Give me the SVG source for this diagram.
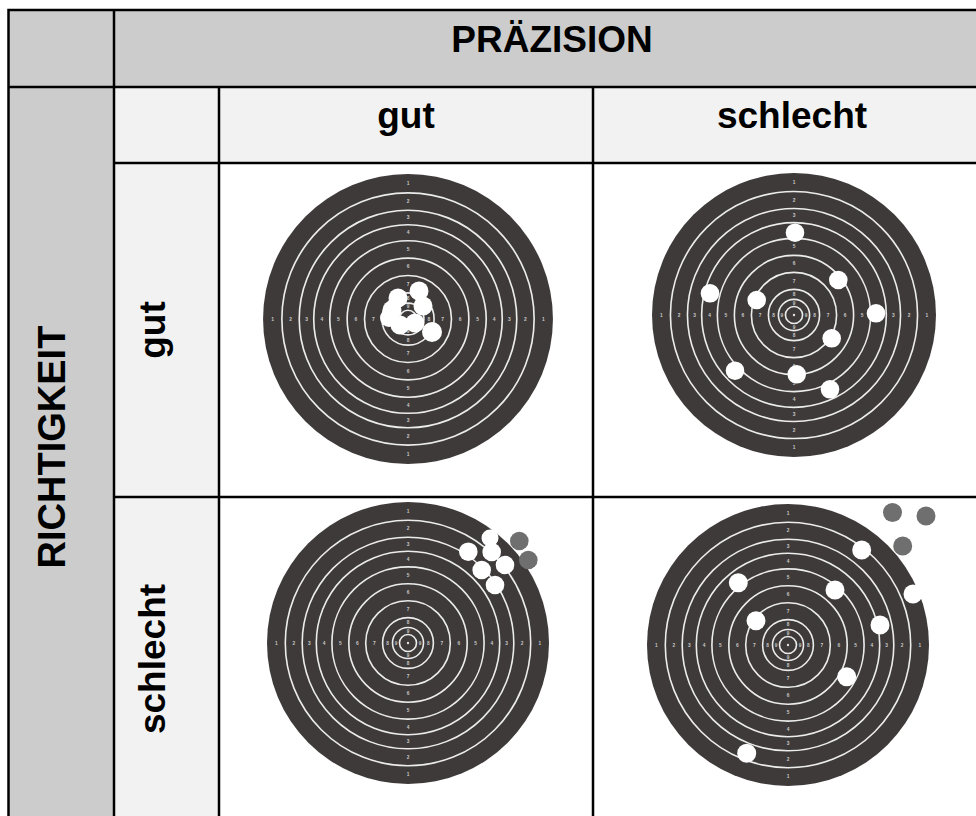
<svg xmlns="http://www.w3.org/2000/svg" xmlns:xlink="http://www.w3.org/1999/xlink" width="976" height="816" viewBox="0 0 976 816">
<style>
.hdr{fill:#cccccc}
.sub{fill:#f2f2f2}
.grid line,.grid rect{stroke:#000;stroke-width:2.5;fill:none}
.lbl{font-family:"Liberation Sans",Arial,sans-serif;font-weight:bold;font-size:37px;fill:#000;text-anchor:middle}
.tn{font-family:"Liberation Sans",Arial,sans-serif;font-size:4.8px;font-weight:bold;fill:#c8c8c8;text-anchor:middle}
.ring{fill:none;stroke:#ececec;stroke-width:1.6}
.hole{fill:#ffffff}
.ghole{fill:#6f6f6f}
</style>
<defs>
<g id="target">
<circle r="141" fill="#3e3a39"/>
<circle class="ring" r="122.7"/>
<circle class="ring" r="105.8"/>
<circle class="ring" r="91.7"/>
<circle class="ring" r="76.1"/>
<circle class="ring" r="59.2"/>
<circle class="ring" r="42.3"/>
<circle class="ring" r="25.4"/>
<circle class="ring" r="15.5"/>
<circle class="ring" r="8.5"/>
<circle r="1.2" fill="#e0e0e0"/>
<g class="tn">
<text x="0" y="-130.2">1</text><text x="0" y="133.4">1</text><text x="-131.8" y="1.6">1</text><text x="131.8" y="1.6">1</text>
<text x="0" y="-112.6">2</text><text x="0" y="115.8">2</text><text x="-114.2" y="1.6">2</text><text x="114.2" y="1.6">2</text>
<text x="0" y="-97.1">3</text><text x="0" y="100.3">3</text><text x="-98.7" y="1.6">3</text><text x="98.7" y="1.6">3</text>
<text x="0" y="-82.3">4</text><text x="0" y="85.5">4</text><text x="-83.9" y="1.6">4</text><text x="83.9" y="1.6">4</text>
<text x="0" y="-66.1">5</text><text x="0" y="69.3">5</text><text x="-67.7" y="1.6">5</text><text x="67.7" y="1.6">5</text>
<text x="0" y="-49.2">6</text><text x="0" y="52.4">6</text><text x="-50.8" y="1.6">6</text><text x="50.8" y="1.6">6</text>
<text x="0" y="-32.2">7</text><text x="0" y="35.4">7</text><text x="-33.8" y="1.6">7</text><text x="33.8" y="1.6">7</text>
<text x="0" y="-18.8">8</text><text x="0" y="22">8</text><text x="-20.4" y="1.6">8</text><text x="20.4" y="1.6">8</text>
<text x="0" y="-10.4">9</text><text x="0" y="13.6">9</text><text x="-12" y="1.6">9</text><text x="12" y="1.6">9</text>
</g>
</g>
</defs>

<g id="cells">
<rect class="hdr" x="8.5" y="10" width="105.5" height="77"/>
<rect class="hdr" x="114" y="10" width="877" height="77"/>
<rect class="hdr" x="8.5" y="87" width="105.5" height="734"/>
<rect class="sub" x="114" y="87" width="105" height="76"/>
<rect class="sub" x="219" y="87" width="772" height="76"/>
<rect class="sub" x="114" y="163" width="105" height="658"/>
<rect fill="#ffffff" x="219" y="163" width="772" height="658"/>
</g>

<g id="head-praezision"><text class="lbl" x="552" y="52">PRÄZISION</text></g>
<g id="head-richtigkeit"><text class="lbl" transform="translate(65,447) rotate(-90)" style="font-size:38px">RICHTIGKEIT</text></g>
<g id="col-gut"><text class="lbl" x="406" y="128">gut</text></g>
<g id="col-schlecht"><text class="lbl" x="792" y="128">schlecht</text></g>
<g id="row-gut"><text class="lbl" transform="translate(165,330) rotate(-90)">gut</text></g>
<g id="row-schlecht"><text class="lbl" transform="translate(165,659) rotate(-90)">schlecht</text></g>

<g id="target-gut-gut">
<use xlink:href="#target" href="#target" transform="translate(408,319) scale(1.028)"/>
<g class="hole">
<circle cx="419" cy="291" r="9.5"/>
<circle cx="392" cy="310" r="9.5"/>
<circle cx="398" cy="298" r="9.5"/>
<circle cx="423" cy="306" r="9.5"/>
<circle cx="400" cy="325" r="9.5"/>
<circle cx="415" cy="323" r="9.5"/>
<circle cx="389" cy="318" r="9"/>
<circle cx="432" cy="332" r="10"/>
</g>
</g>

<g id="target-gut-schlecht">
<use xlink:href="#target" href="#target" transform="translate(794,315) scale(1.007)"/>
<g class="hole">
<circle cx="795" cy="232.7" r="9.3"/>
<circle cx="710" cy="293.3" r="9.3"/>
<circle cx="756.7" cy="300" r="9.3"/>
<circle cx="838.3" cy="280" r="9.3"/>
<circle cx="876" cy="313.3" r="9.3"/>
<circle cx="831.7" cy="338.3" r="9.3"/>
<circle cx="735" cy="370.7" r="9.3"/>
<circle cx="796.7" cy="374.3" r="9.3"/>
<circle cx="830" cy="389.3" r="9.3"/>
</g>
</g>

<g id="target-schlecht-gut">
<use xlink:href="#target" href="#target" transform="translate(408,643)"/>
<g class="hole">
<circle cx="490" cy="538" r="8.5"/>
<circle cx="468.3" cy="551.7" r="9.3"/>
<circle cx="491.7" cy="552" r="9.3"/>
<circle cx="505" cy="565" r="9.3"/>
<circle cx="481.7" cy="570" r="9.3"/>
<circle cx="495" cy="585" r="9.3"/>
</g>
<g class="ghole">
<circle cx="519.3" cy="541" r="9.3"/>
<circle cx="528.3" cy="560" r="9.3"/>
</g>
</g>

<g id="target-schlecht-schlecht">
<use xlink:href="#target" href="#target" transform="translate(788,645)"/>
<g class="hole">
<circle cx="861.7" cy="550" r="9.5"/>
<circle cx="738.3" cy="582.7" r="9.5"/>
<circle cx="835" cy="590" r="9.5"/>
<circle cx="913" cy="594" r="9.5"/>
<circle cx="756" cy="620.7" r="9.5"/>
<circle cx="880" cy="625" r="9.5"/>
<circle cx="846.7" cy="676.7" r="9.5"/>
<circle cx="746.7" cy="753.3" r="9.5"/>
</g>
<g class="ghole">
<circle cx="892.5" cy="512.5" r="9.5"/>
<circle cx="926" cy="516" r="9.5"/>
<circle cx="902.7" cy="546" r="9.5"/>
</g>
</g>

<g id="connectors" class="grid">
<rect x="8.5" y="10" width="982.5" height="811"/>
<line x1="114" y1="10" x2="114" y2="821"/>
<line x1="219" y1="87" x2="219" y2="821"/>
<line x1="593" y1="87" x2="593" y2="821"/>
<line x1="8.5" y1="87" x2="991" y2="87"/>
<line x1="114" y1="163" x2="991" y2="163"/>
<line x1="114" y1="497" x2="991" y2="497"/>
</g>
</svg>
